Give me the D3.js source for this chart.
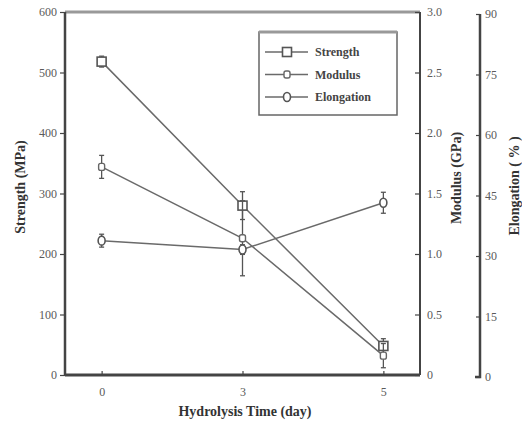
<!DOCTYPE html>
<html><head><meta charset="utf-8">
<script src="https://cdn.jsdelivr.net/npm/d3@7"></script>
<style>body{margin:0;background:#fff}svg{display:block}text{font-family:"Liberation Serif","DejaVu Serif",serif}</style>
</head><body>
<svg id="c" width="522" height="424"></svg>
<script>
const days = ["0", "3", "5"];
const strength = [518, 280, 48];
const strengthErr = [9, 23, 12];
const modulus = [1.72, 1.13, 0.16];
const modulusErr = [0.095, 0.31, 0.1];
const elongation = [33.8, 31.6, 43.2];
const elongationErr = [1.6, 1.2, 2.6];
const strengthTicks = [0, 100, 200, 300, 400, 500, 600];
const modulusTicks = [0, 0.5, 1.0, 1.5, 2.0, 2.5, 3.0];
const elongationTicks = [0, 15, 30, 45, 60, 75, 90];
const seriesNames = ["Strength", "Modulus", "Elongation"];

const svg = d3.select("#c");
const L = 65, R = 420, T = 12, B = 375;
const x = d3.scalePoint().domain(days).range([L, R]).padding(0.26);
const yS = d3.scaleLinear().domain([0, 600]).range([B, T]);
const yM = d3.scaleLinear().domain([0, 3]).range([B, T]);
const yE = d3.scaleLinear().domain([0, 90]).range([377, 14]);
const axisCol = "#444", lineCol = "#6a6a6a", textCol = "#5a5a5a";

// frame
svg.append("line").attr("x1", L).attr("x2", R).attr("y1", T).attr("y2", T).attr("stroke", "#999").attr("stroke-width", 3);

const gl = svg.append("g").attr("transform", `translate(${L},0)`)
  .call(d3.axisLeft(yS).tickValues(strengthTicks).tickSize(5).tickPadding(3).tickFormat(d3.format("d")));
const gm = svg.append("g").attr("transform", `translate(${R},0)`)
  .call(d3.axisRight(yM).tickValues(modulusTicks).tickSize(-5).tickPadding(7).tickFormat(d => d === 0 ? "0" : d3.format(".1f")(d)));
const ge = svg.append("g").attr("transform", "translate(480,0)")
  .call(d3.axisRight(yE).tickValues(elongationTicks).tickSize(-4).tickPadding(5).tickFormat(d3.format("d")));
const gb = svg.append("g").attr("transform", `translate(0,${B})`)
  .call(d3.axisBottom(x).tickSize(-4).tickPadding(10).tickSizeOuter(0));

[gl, gm, ge, gb].forEach(g => {
  g.attr("font-family", "Liberation Serif, serif").attr("font-size", 12);
  g.selectAll(".domain").attr("stroke", axisCol).attr("stroke-width", 2.5);
  g.selectAll(".tick line").attr("stroke", axisCol).attr("stroke-width", 1.2);
  g.selectAll(".tick text").attr("fill", textCol).style("fill", textCol);
});
gl.select(".domain").attr("d", `M0,${T}V${B}`);
gm.select(".domain").attr("d", `M0,${T}V${B}`).attr("stroke-width", 2);
ge.select(".domain").attr("d", `M0,${yE(90)}V${yE(0)}H-5`).attr("fill", "none");
gb.select(".domain").attr("d", `M${L},0H${R}`).attr("stroke-width", 3);
gb.selectAll(".tick text").attr("dy", "0.9em");

// titles
function title(tx, ty, rot, txt, size) {
  svg.append("text").attr("transform", `translate(${tx},${ty})` + (rot ? " rotate(-90)" : ""))
    .attr("text-anchor", "middle").attr("fill", "#333")
    .style("font-size", size + "px").style("font-weight", "bold").text(txt);
}
title(25, 187, true, "Strength (MPa)", 14);
title(461, 178, true, "Modulus (GPa)", 14);
title(519, 186, true, "Elongation ( % )", 14);
title(245, 416, false, "Hydrolysis Time (day)", 14);

const series = [
  {name: seriesNames[0], vals: strength, err: strengthErr, y: yS, shape: "square"},
  {name: seriesNames[1], vals: modulus, err: modulusErr, y: yM, shape: "small"},
  {name: seriesNames[2], vals: elongation, err: elongationErr, y: yE, shape: "circle"}
];

function marker(g, cx, cy, shape) {
  if (shape === "square") {
    g.append("rect").attr("x", cx - 4.5).attr("y", cy - 4.5).attr("width", 9).attr("height", 9)
      .attr("fill", "#fff").attr("stroke", "#555").attr("stroke-width", 1.6);
  } else if (shape === "small") {
    g.append("rect").attr("x", cx - 3).attr("y", cy - 3.5).attr("width", 6).attr("height", 7).attr("rx", 2)
      .attr("fill", "#fff").attr("stroke", "#666").attr("stroke-width", 1.4);
  } else {
    g.append("ellipse").attr("cx", cx).attr("cy", cy).attr("rx", 3.5).attr("ry", 4.5)
      .attr("fill", "#fff").attr("stroke", "#555").attr("stroke-width", 1.6);
  }
}

series.forEach(s => {
  const g = svg.append("g");
  const line = d3.line().x((d, i) => x(days[i])).y(d => s.y(d));
  g.append("path").attr("d", line(s.vals)).attr("fill", "none").attr("stroke", lineCol).attr("stroke-width", 1.5);
  s.vals.forEach((v, i) => {
    const cx = x(days[i]);
    const y1 = s.y(v + s.err[i]), y2 = s.y(v - s.err[i]);
    g.append("line").attr("x1", cx).attr("x2", cx).attr("y1", y1).attr("y2", y2).attr("stroke", "#555").attr("stroke-width", 1.3);
    [y1, y2].forEach(yy => g.append("line").attr("x1", cx - 2.5).attr("x2", cx + 2.5).attr("y1", yy).attr("y2", yy).attr("stroke", "#555").attr("stroke-width", 1.3));
  });
  s.vals.forEach((v, i) => marker(g, x(days[i]), s.y(v), s.shape));
});

// legend
const lg = svg.append("g");
lg.append("rect").attr("x", 259).attr("y", 32).attr("width", 138).attr("height", 83)
  .attr("fill", "#fff").attr("stroke", "#666").attr("stroke-width", 1.5);
lg.append("line").attr("x1", 259).attr("x2", 397).attr("y1", 32).attr("y2", 32).attr("stroke", "#999").attr("stroke-width", 3);
series.forEach((s, i) => {
  const yy = 52 + i * 22.5;
  lg.append("line").attr("x1", 265).attr("x2", 308).attr("y1", yy).attr("y2", yy).attr("stroke", lineCol).attr("stroke-width", 1.5);
  marker(lg, 287, yy, s.shape);
  lg.append("text").attr("x", 315).attr("y", yy + 4).attr("fill", "#444")
    .style("font-size", "12px").style("font-weight", "bold").text(s.name);
});
</script>
</body></html>
